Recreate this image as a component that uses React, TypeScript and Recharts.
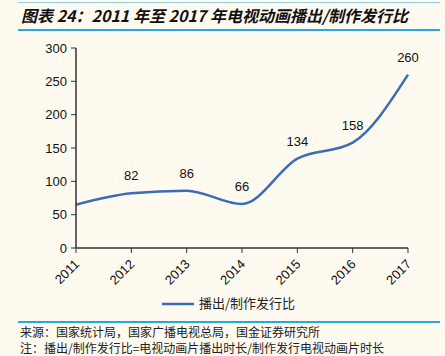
import React from 'react';
import { LineChart, Line, XAxis, YAxis, LabelList } from 'recharts';

// 年份与播出/制作发行比
const years = ['2011', '2012', '2013', '2014', '2015', '2016', '2017'];
const ratios = [65, 82, 86, 66, 134, 158, 260];
const shownLabels = ['', '82', '86', '66', '134', '158', '260'];
const yTicks = [0, 50, 100, 150, 200, 250, 300];

const seriesName = '播出/制作发行比';
const title = '图表 24：2011 年至 2017 年电视动画播出/制作发行比';
const source = '来源：国家统计局，国家广播电视总局，国金证券研究所';
const note = '注：播出/制作发行比=电视动画片播出时长/制作发行电视动画片时长';

const data = years.map((year, i) => ({ year, value: ratios[i], label: shownLabels[i] }));

const BG = '#fefaf0';
const BLUE = '#3a6db5';
const RULE = '#29a8e0';
const FONT = 'Liberation Sans, Arial, sans-serif';
const CJK = '"Noto Sans CJK SC", sans-serif';

function XTick(props: any) {
  const { x, y, payload } = props;
  return (
    <text
      x={x + 4}
      y={y + 10}
      textAnchor="end"
      fontSize={13}
      fontFamily={FONT}
      fill="#111"
      transform={`rotate(-45 ${x + 4} ${y + 10})`}
    >
      {payload.value}
    </text>
  );
}

function PointLabel(props: any) {
  const { x, y, index } = props;
  const text = shownLabels[index];
  if (!text) return null;
  return (
    <text x={x} y={y - 13} textAnchor="middle" fontSize={13} fontFamily={FONT} fill="#111">
      {text}
    </text>
  );
}

export default function App() {
  return (
    <div
      style={{
        position: 'fixed',
        left: 0,
        top: 0,
        width: 445,
        height: 356,
        background: BG,
        overflow: 'hidden',
        fontFamily: FONT,
      }}
    >
      <div style={{ position: 'absolute', left: 18, top: 2, width: 422, height: 1, background: RULE, opacity: 0.5 }} />
      <div
        style={{
          position: 'absolute',
          left: 21,
          top: 4,
          fontSize: 16,
          fontWeight: 'bold',
          fontStyle: 'italic',
          fontFamily: CJK,
          color: '#111',
          whiteSpace: 'nowrap',
          lineHeight: '22px',
        }}
      >
        {title}
      </div>
      <div style={{ position: 'absolute', left: 18, top: 29, width: 422, height: 2, background: RULE }} />

      <div style={{ position: 'absolute', left: 0, top: 0 }}>
        <LineChart width={445} height={300} data={data} margin={{ top: 48, right: 37, bottom: 12, left: 36 }}>
          <XAxis
            dataKey="year"
            tick={<XTick />}
            tickLine={{ stroke: '#333' }}
            axisLine={{ stroke: '#333', strokeWidth: 1.5 }}
            tickSize={5}
            interval={0}
            height={40}
            padding={{ left: 0, right: 0 }}
          />
          <YAxis
            domain={[0, 300]}
            ticks={yTicks}
            width={40}
            tick={{ fontSize: 13, fill: '#111', fontFamily: FONT }}
            tickLine={{ stroke: '#333' }}
            axisLine={{ stroke: '#333', strokeWidth: 1.5 }}
            tickSize={5}
            tickMargin={4}
            interval={0}
          />
          <Line
            type="monotone"
            dataKey="value"
            name={seriesName}
            stroke={BLUE}
            strokeWidth={2.5}
            dot={false}
            isAnimationActive={false}
          >
            <LabelList dataKey="label" content={<PointLabel />} />
          </Line>
        </LineChart>
      </div>

      <svg style={{ position: 'absolute', left: 160, top: 296 }} width={40} height={16}>
        <line x1={2} y1={8} x2={34} y2={8} stroke={BLUE} strokeWidth={2.5} />
      </svg>
      <div
        style={{
          position: 'absolute',
          left: 199,
          top: 294,
          fontSize: 13,
          fontFamily: CJK,
          color: '#222',
          lineHeight: '18px',
          whiteSpace: 'nowrap',
        }}
      >
        {seriesName}
      </div>

      <div style={{ position: 'absolute', left: 18, top: 321, width: 422, height: 2, background: RULE }} />
      <div
        style={{
          position: 'absolute',
          left: 20,
          top: 324,
          fontSize: 12,
          fontFamily: CJK,
          color: '#222',
          lineHeight: '16px',
          whiteSpace: 'nowrap',
        }}
      >
        <div>{source}</div>
        <div>{note}</div>
      </div>
    </div>
  );
}
